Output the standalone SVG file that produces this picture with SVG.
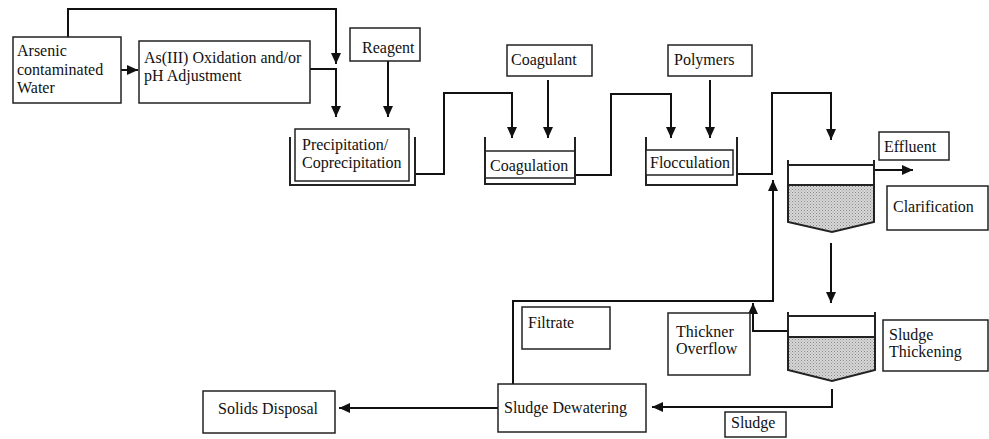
<svg xmlns="http://www.w3.org/2000/svg" width="989" height="439" viewBox="0 0 989 439">
<style>
.box{fill:#fff;stroke:#222;stroke-width:1.5}
.t{font-family:"Liberation Serif","Times New Roman",serif;font-size:16px;fill:#111}
.c{fill:none;stroke:#111;stroke-width:2}
.w{fill:none;stroke:#222;stroke-width:2}
.thin{fill:none;stroke:#222;stroke-width:1.5}
</style>
<defs>
<marker id="ah" markerUnits="userSpaceOnUse" markerWidth="12" markerHeight="10" refX="11" refY="5" orient="auto">
<path d="M0,0 L11,5 L0,10 Z" fill="#111"/>
</marker>
<pattern id="dots" width="3" height="3" patternUnits="userSpaceOnUse">
<rect width="3" height="3" fill="#d8d8d8"/>
<rect width="1" height="1" fill="#888"/>
<rect x="1.5" y="1.5" width="1" height="1" fill="#999"/>
</pattern>
</defs>

<g id="connectors">
<path class="c" d="M68,37 V9 H336 V64" marker-end="url(#ah)"/>
<path class="c" d="M121,70 H138" marker-end="url(#ah)"/>
<path class="c" d="M310,69 H336 V117" marker-end="url(#ah)"/>
<path class="c" d="M388,61 V117" marker-end="url(#ah)"/>
<path class="c" d="M415,174 H444 V93 H512 V138" marker-end="url(#ah)"/>
<path class="c" d="M548,80 V138" marker-end="url(#ah)"/>
<path class="c" d="M575,175 H611 V94 H671 V138" marker-end="url(#ah)"/>
<path class="c" d="M710,80 V138" marker-end="url(#ah)"/>
<path class="c" d="M737,174 H772 V93 H831 V140" marker-end="url(#ah)"/>
<path class="c" d="M875,170 H913" marker-end="url(#ah)"/>
<path class="c" d="M831,243 V303" marker-end="url(#ah)"/>
<path class="c" d="M513,384 V301 H773 V180" marker-end="url(#ah)"/>
<path class="c" d="M788,331 H753 V303" marker-end="url(#ah)"/>
<path class="c" d="M832,389 V407 H652" marker-end="url(#ah)"/>
<path class="c" d="M498,408 H339" marker-end="url(#ah)"/>
</g>

<g id="arsenic-water">
<rect class="box" x="13" y="37" width="108" height="66"/>
<text class="t" x="17" y="56">Arsenic</text>
<text class="t" x="17" y="75">contaminated</text>
<text class="t" x="17" y="93">Water</text>
</g>

<g id="oxidation">
<rect class="box" x="139" y="41" width="171" height="62"/>
<text class="t" x="144" y="63">As(III) Oxidation and/or</text>
<text class="t" x="144" y="81">pH Adjustment</text>
</g>

<g id="reagent">
<rect class="box" x="350" y="28" width="70" height="33"/>
<text class="t" x="362" y="53">Reagent</text>
</g>

<g id="precipitation">
<path class="w" d="M290,137 V185 H415 V137"/>
<rect class="box" x="295" y="129" width="114" height="52"/>
<text class="t" x="302" y="150">Precipitation/</text>
<text class="t" x="302" y="168">Coprecipitation</text>
</g>

<g id="coagulant">
<rect class="box" x="507" y="45" width="85" height="31"/>
<text class="t" x="511" y="65">Coagulant</text>
</g>

<g id="coagulation">
<path class="w" d="M485,137 V184 H575 V137"/>
<line class="thin" x1="485" y1="151" x2="575" y2="151"/>
<line class="thin" x1="485" y1="178" x2="575" y2="178"/>
<text class="t" x="490" y="171">Coagulation</text>
</g>

<g id="polymers">
<rect class="box" x="668" y="45" width="84" height="31"/>
<text class="t" x="674" y="65">Polymers</text>
</g>

<g id="flocculation">
<path class="w" d="M646,137 V185 H737 V137"/>
<rect class="box" x="646" y="150" width="87" height="25"/>
<text class="t" x="650" y="168">Flocculation</text>
</g>

<g id="clarifier">
<path d="M788,185 H874 V222 L832,232 L788,222 Z" fill="url(#dots)" stroke="#222" stroke-width="2"/>
<path class="w" d="M788,160 V222"/>
<path class="w" d="M874,160 V222"/>
<line class="w" x1="788" y1="165" x2="874" y2="165"/>
</g>

<g id="effluent">
<rect class="box" x="879" y="132" width="70" height="28"/>
<text class="t" x="884" y="152">Effluent</text>
</g>

<g id="clarification">
<rect class="box" x="887" y="186" width="101" height="44"/>
<text class="t" x="893" y="212">Clarification</text>
</g>

<g id="thickener">
<path d="M788,337 H875 V370 L832,381 L788,370 Z" fill="url(#dots)" stroke="#222" stroke-width="2"/>
<path class="w" d="M788,312 V370"/>
<path class="w" d="M875,312 V370"/>
<line class="w" x1="788" y1="316" x2="875" y2="316"/>
</g>

<g id="sludge-thickening">
<rect class="box" x="883" y="320" width="105" height="51"/>
<text class="t" x="889" y="340">Sludge</text>
<text class="t" x="889" y="357">Thickening</text>
</g>

<g id="thickner-overflow">
<rect class="box" x="668" y="313" width="82" height="62"/>
<text class="t" x="676" y="337">Thickner</text>
<text class="t" x="676" y="354">Overflow</text>
</g>

<g id="filtrate">
<rect class="box" x="522" y="307" width="88" height="42"/>
<text class="t" x="528" y="328">Filtrate</text>
</g>

<g id="sludge-dewatering">
<rect class="box" x="498" y="384" width="148" height="48"/>
<text class="t" x="504" y="413">Sludge Dewatering</text>
</g>

<g id="sludge">
<rect class="box" x="725" y="412" width="61" height="25"/>
<text class="t" x="731" y="428">Sludge</text>
</g>

<g id="solids-disposal">
<rect class="box" x="203" y="391" width="132" height="42"/>
<text class="t" x="218" y="414">Solids Disposal</text>
</g>
</svg>
